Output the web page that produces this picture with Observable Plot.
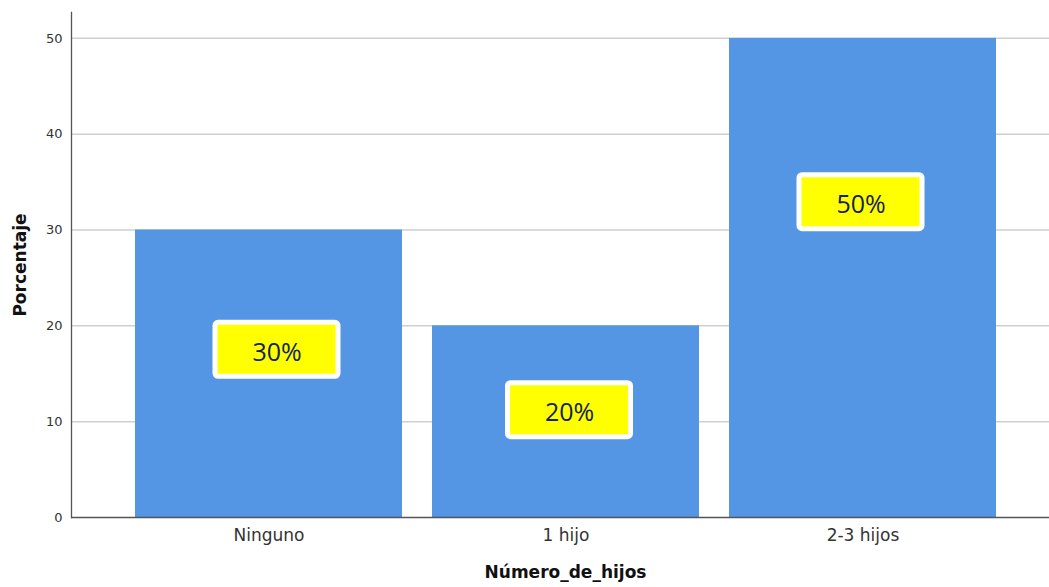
<!DOCTYPE html>
<html>
<head>
<meta charset="utf-8">
<script src="https://cdn.jsdelivr.net/npm/d3@7"></script>
<script src="https://cdn.jsdelivr.net/npm/@observablehq/plot@0.6"></script>
<style>
  html, body { margin: 0; padding: 0; background: #fff; }
  #chart svg { display: block; }
</style>
</head>
<body>
<div id="chart"></div>
<script>
// Data
const categories = ["Ninguno", "1 hijo", "2-3 hijos"];
const percentages = [30, 20, 50];
const yTicks = [0, 10, 20, 30, 40, 50];
// where each label box sits (in percentage units)
const labelLevels = [17.5, 11.2, 32.9];

const bars = categories.map((c, i) => ({cat: c, value: percentages[i], level: labelLevels[i]}));

const W = 1049, H = 587;
const mTop = 12, mBottom = 70, mLeft = 71, mRight = 0;
const yMax = 52.7;
const pxPerUnit = (H - mTop - mBottom) / yMax;
const boxHalf = 27 / pxPerUnit; // half height of label box in data units
const labelShift = [8, 3.5, -2]; // small horizontal nudges of the label boxes (px)

const labelMarks = bars.flatMap((b, i) => [
  Plot.barY([b], {
    x: "cat",
    y1: d => d.level - boxHalf,
    y2: d => d.level + boxHalf,
    insetLeft: 72 + labelShift[i], insetRight: 72 - labelShift[i],
    fill: "#ffff00", stroke: "#ffffff", strokeWidth: 5, rx: 3
  }),
  Plot.text([b], {
    x: "cat", y: "level", text: d => d.value + "%",
    fontSize: 25, fill: "#14234f", fontFamily: "Open Sans, sans-serif",
    dy: 3, dx: labelShift[i]
  })
]);

const chart = Plot.plot({
  width: W,
  height: H,
  marginTop: mTop,
  marginBottom: mBottom,
  marginLeft: mLeft,
  marginRight: mRight,
  style: {fontFamily: "DejaVu Sans, sans-serif", background: "#fff"},
  x: {domain: categories, range: [105.3, 1026], padding: 0.1, axis: null},
  y: {domain: [0, yMax], axis: null},
  marks: [
    Plot.ruleY(yTicks.filter(d => d > 0), {stroke: "#cfcfcf", strokeWidth: 1.5}),
    Plot.barY(bars, {x: "cat", y: "value", fill: "#5596e4"}),
    ...labelMarks,
    Plot.ruleY([0], {stroke: "#555", strokeWidth: 1.3}),
    Plot.frame({anchor: "left", stroke: "#555", strokeWidth: 1.3}),
    Plot.axisY({ticks: yTicks, tickSize: 0, tickPadding: 9, fontSize: 13, color: "#333", label: null}),
    Plot.axisX({tickSize: 0, tickPadding: 11, fontSize: 17, color: "#333", label: null}),
    Plot.text(["Número_de_hijos"], {frameAnchor: "bottom", dy: 60, dx: 5, fontSize: 17, fontWeight: "bold", fill: "#111", textAnchor: "middle"}),
    Plot.text(["Porcentaje"], {frameAnchor: "left", dx: -51, rotate: -90, fontSize: 17, fontWeight: "bold", fill: "#111", textAnchor: "middle"})
  ]
});
document.getElementById("chart").appendChild(chart);
</script>
</body>
</html>
